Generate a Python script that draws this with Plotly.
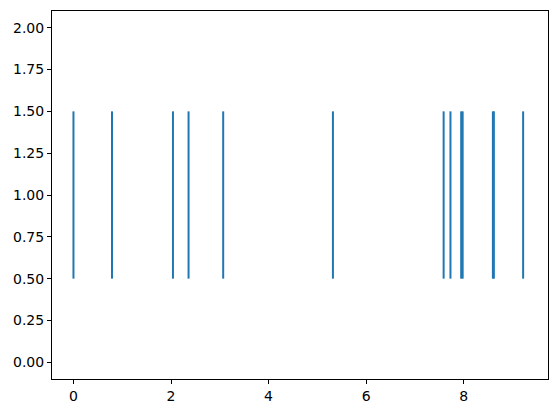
import plotly.graph_objects as go

events = [0.0, 0.79, 2.04, 2.36, 3.07, 5.32, 7.59, 7.73, 7.95, 7.98, 8.60, 8.62, 9.22]
line_offset = 1.0
line_length = 1.0
x_ticks = [0, 2, 4, 6, 8]
y_ticks = [0.0, 0.25, 0.5, 0.75, 1.0, 1.25, 1.5, 1.75, 2.0]

xs, ys = [], []
for e in events:
    xs += [e, e, None]
    ys += [line_offset - line_length / 2, line_offset + line_length / 2, None]

fig = go.Figure(go.Scatter(x=xs, y=ys, mode="lines",
                           line=dict(color="#1f77b4", width=2),
                           hoverinfo="skip", showlegend=False))

axis_common = dict(showline=True, linecolor="black", linewidth=1, mirror=True,
                   ticks="outside", ticklen=4, tickwidth=1, tickcolor="black",
                   showgrid=False, zeroline=False,
                   tickfont=dict(family="DejaVu Sans", size=14, color="black"))

fig.update_layout(
    width=556, height=413,
    margin=dict(l=52, r=8, t=11, b=34),
    plot_bgcolor="white", paper_bgcolor="white",
    xaxis=dict(range=[-0.44, 9.73], tickvals=x_ticks,
               ticktext=[str(t) for t in x_ticks], **axis_common),
    yaxis=dict(range=[-0.1, 2.1], tickvals=y_ticks,
               ticktext=[f"{t:.2f}" for t in y_ticks], **axis_common),
)

fig.write_html("out.html", config={"displayModeBar": False, "staticPlot": True})
with open("out.html", "r", encoding="utf-8") as f:
    html = f.read()
html = html.replace("<head>", "<head><style>html,body{margin:0;padding:0;overflow:hidden;}</style>", 1)
with open("out.html", "w", encoding="utf-8") as f:
    f.write(html)
